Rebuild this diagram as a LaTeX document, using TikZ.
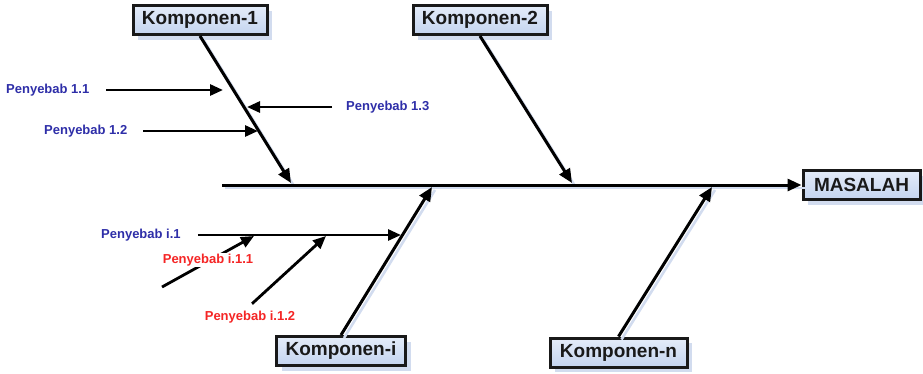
\documentclass[tikz,border=0pt]{standalone}
\usepackage{fontspec}
\setmainfont{Liberation Sans}
\usetikzlibrary{arrows.meta,shadows}
\definecolor{boxfill}{HTML}{C4D4EF}
\definecolor{boxtop}{HTML}{E4ECF9}
\definecolor{shade}{HTML}{D2DCEF}
\definecolor{causeblue}{HTML}{2E2EA8}
\definecolor{causered}{HTML}{F52525}
\begin{document}
\begin{tikzpicture}[x=1pt,y=-1pt,
  comp/.style={draw=black!90, line width=3pt, top color=boxtop, bottom color=boxfill,
    inner sep=0pt, minimum height=29pt, text=black!90,
    font=\bfseries\fontsize{19}{21}\selectfont,
    drop shadow={shadow xshift=5pt, shadow yshift=-5pt, fill=shade, opacity=1}},
  mainline/.style={line width=3pt, draw=black, -{Triangle[length=14pt,width=12pt]}},
  lineshadow/.style={line width=2.6pt, draw=shade, transform canvas={xshift=3pt,yshift=-3pt}},
  causearrow/.style={line width=2.8pt, draw=black, -{Triangle[length=13pt,width=11pt]}},
  bluecause/.style={text=causeblue, inner sep=0pt, font=\bfseries\fontsize{13}{15}\selectfont},
  redcause/.style={text=causered, inner sep=1pt, fill=white, font=\bfseries\fontsize{13}{15}\selectfont}]

\useasboundingbox (0,0) rectangle (923,373);

% head and spine
\node[comp, minimum width=117pt] (masalah) at (861.5,185) {MASALAH};
\coordinate (tail) at (222,185);

% main components
\node[comp, minimum width=134pt] (k1) at (200,20) {Komponen-1};
\node[comp, minimum width=134pt] (k2) at (480,20) {Komponen-2};
\node[comp, minimum width=129pt] (ki) at (341,351) {Komponen-i};
\node[comp, minimum width=137pt] (kn) at (618.5,352.5) {Komponen-n};

% points where the branches meet the spine
\coordinate (j1) at (291,183);
\coordinate (j2) at (572,183);
\coordinate (ji) at (432,187);
\coordinate (jn) at (712,187);

% soft shadows under the main lines
\draw[lineshadow] (tail) -- (masalah.west);
\draw[lineshadow] (k1.south) -- (j1);
\draw[lineshadow] (k2.south) -- (j2);
\draw[lineshadow] (ki.north) -- (ji);
\draw[lineshadow] (kn.north) -- (jn);

% spine and branches
\draw[mainline] (tail) -- (masalah.west);
\draw[mainline] (k1.south) -- (j1);
\draw[mainline] (k2.south) -- (j2);
\draw[mainline] (ki.north) -- (ji);
\draw[mainline] (kn.north) -- (jn);

% causes of component 1
\node[bluecause, anchor=west] (p11) at (6,90) {Penyebab 1.1};
\node[bluecause, anchor=west] (p12) at (44,131) {Penyebab 1.2};
\node[bluecause, anchor=west] (p13) at (346,107) {Penyebab 1.3};
\coordinate (a11) at (223,90);
\coordinate (a12) at (258,131);
\coordinate (a13) at (247,107);
\draw[causearrow, shorten <=17pt] (p11.east) -- (a11);
\draw[causearrow, shorten <=16pt] (p12.east) -- (a12);
\draw[causearrow, shorten <=14pt] (p13.west) -- (a13);

% causes of component i
\node[bluecause, anchor=west] (pi1) at (101,235) {Penyebab i.1};
\coordinate (ai1) at (401,235);
\draw[causearrow, shorten <=17pt] (pi1.east) -- (ai1);

\coordinate (si11) at (162,287);
\coordinate (ai11) at (254,236);
\draw[causearrow] (si11) -- (ai11);
\node[redcause] (pi11) at (208,260) {Penyebab i.1.1};

\node[redcause] (pi12) at (250,317) {Penyebab i.1.2};
\coordinate (ai12) at (326,236);
\draw[causearrow] ([xshift=2pt]pi12.north) ++(0,-6) -- (ai12);

\end{tikzpicture}
\end{document}
